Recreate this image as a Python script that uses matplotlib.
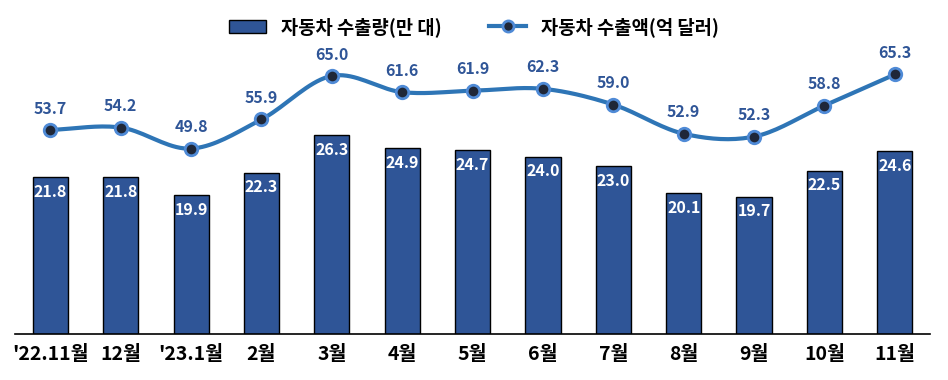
import numpy as np
import matplotlib
matplotlib.use("Agg")
import matplotlib.pyplot as plt
from matplotlib.lines import Line2D
from matplotlib.patches import Patch

plt.rcParams['font.family'] = ['Noto Sans CJK KR', 'DejaVu Sans']

months = ["'22.11월", "12월", "'23.1월", "2월", "3월", "4월", "5월", "6월", "7월", "8월", "9월", "10월", "11월"]
volume = [21.8, 21.8, 19.9, 22.3, 26.3, 24.9, 24.7, 24.0, 23.0, 20.1, 19.7, 22.5, 24.6]
amount = [53.7, 54.2, 49.8, 55.9, 65.0, 61.6, 61.9, 62.3, 59.0, 52.9, 52.3, 58.8, 65.3]

bar_color = "#2F5597"
line_color = "#2E75B6"


def smooth(x, y, n=20):
    # hermite curve through the points
    x = np.asarray(x, float)
    y = np.asarray(y, float)
    m = np.gradient(y, x)
    xs, ys = [], []
    for i in range(len(x) - 1):
        t = np.linspace(0, 1, n)
        h = x[i + 1] - x[i]
        h00 = 2 * t**3 - 3 * t**2 + 1
        h10 = t**3 - 2 * t**2 + t
        h01 = -2 * t**3 + 3 * t**2
        h11 = t**3 - t**2
        xs.append(x[i] + t * h)
        ys.append(h00 * y[i] + h10 * h * m[i] + h01 * y[i + 1] + h11 * h * m[i + 1])
    return np.concatenate(xs), np.concatenate(ys)


fig = plt.figure(figsize=(9.48, 3.8), dpi=100)
ax = fig.add_axes([0.016, 0.121, 0.965, 0.761])
x = np.arange(len(months))

ax.bar(x, volume, width=0.5, color=bar_color, edgecolor="black",
       linewidth=1.0, zorder=2)
ax.set_ylim(5, 36)
ax.set_xlim(-0.5, 12.5)
for xi, v in zip(x, volume):
    ax.text(xi, v - 0.7, f"{v:.1f}", ha="center", va="top", color="white",
            fontsize=11.5, fontweight="bold", zorder=3)

ax.set_xticks(x)
ax.set_xticklabels(months, fontsize=14, fontweight="bold")
ax.tick_params(axis="x", length=0, pad=8)
ax.set_yticks([])
for s in ["top", "right", "left"]:
    ax.spines[s].set_visible(False)
ax.spines["bottom"].set_linewidth(1.2)

ax2 = ax.twinx()
ax2.set_ylim(11, 71.5)
ax2.set_yticks([])
for s in ["top", "right", "left", "bottom"]:
    ax2.spines[s].set_visible(False)

sx, sy = smooth(x, amount)
ax2.plot(sx, sy, color=line_color, linewidth=3, zorder=3)
ax2.plot(x, amount, linestyle="none", marker="o", markersize=9,
         markerfacecolor="#1F2738", markeredgecolor="#4F8AD6", markeredgewidth=2, zorder=4)
for xi, v in zip(x, amount):
    ax2.text(xi, v + 2.8, f"{v:.1f}", ha="center", va="bottom", color=bar_color,
             fontsize=11.5, fontweight="bold", zorder=5)

handles = [
    Patch(facecolor=bar_color, edgecolor="black", label="자동차 수출량(만 대)"),
    Line2D([0], [0], color=line_color, linewidth=3, marker="o", markersize=8,
           markerfacecolor="#1F2738", markeredgecolor="#4F8AD6", markeredgewidth=2,
           label="자동차 수출액(억 달러)"),
]
fig.legend(handles=handles, loc="upper center", bbox_to_anchor=(0.5, 1.0), ncol=2,
           frameon=False, prop={"size": 13.5, "weight": "bold"}, handlelength=2.0,
           handleheight=0.7, columnspacing=2.5)

fig.savefig("out.png", dpi=100)
